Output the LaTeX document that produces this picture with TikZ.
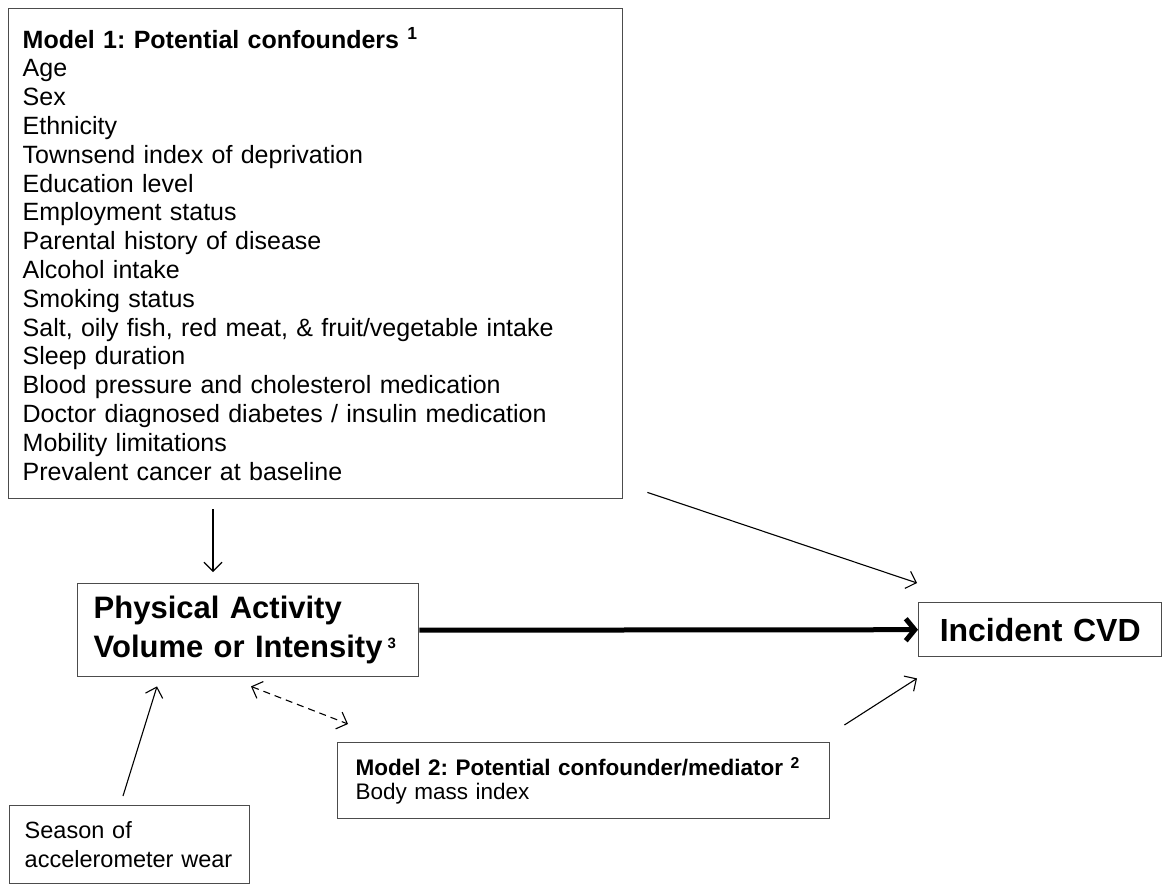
\documentclass[tikz,border=0pt]{standalone}
\usepackage{fontspec}
\setmainfont{Liberation Sans}
\usetikzlibrary{positioning,calc,arrows.meta}
\frenchspacing

\begin{document}
\begin{tikzpicture}[x=1pt, y=-1pt,
        box/.style={draw=black!70, line width=1.4pt, anchor=north west, align=left, inner ysep=0pt},
        arr/.style={-{Straight Barb[length=9pt,width=18pt]}, line width=1.1pt},
        bigarr/.style={-{Straight Barb[length=9pt,width=22pt]}, line width=5pt}]
        \useasboundingbox (0,0) rectangle (1163,886);
        
        % Boites
        \node[box, text width=586pt, minimum height=490pt, inner xsep=14pt,
              font=\fontsize{25}{28.8}\selectfont] (conf) at (8,8)
            {\textbf{Model 1: Potential confounders \textsuperscript{1}}\\
             Age\\ Sex\\ Ethnicity\\ Townsend index of deprivation\\ Education level\\
             Employment status\\ Parental history of disease\\ Alcohol intake\\ Smoking status\\
             Salt, oily fish, red meat, \& fruit/vegetable intake\\ Sleep duration\\
             Blood pressure and cholesterol medication\\
             Doctor diagnosed diabetes / insulin medication\\
             Mobility limitations\\ Prevalent cancer at baseline};
        \node[box, text width=309pt, minimum height=93pt, inner xsep=16pt,
              font=\bfseries\fontsize{31}{39}\selectfont] (pa) at (77,583)
            {Physical Activity\\ Volume or Intensity\,\textsuperscript{\fontsize{15}{15}\selectfont 3}};
        \node[box, text width=243pt, minimum height=54pt, inner xsep=0pt, align=center,
              font=\bfseries\fontsize{32}{36}\selectfont] (cvd) at (918,602) {Incident CVD};
        \node[box, text width=456pt, minimum height=76pt, inner xsep=18pt,
              font=\fontsize{22.5}{24}\selectfont] (bmi) at (337,742)
            {\textbf{Model 2: Potential confounder/mediator \textsuperscript{2}}\\ Body mass index};
        \node[box, text width=210pt, minimum height=78pt, inner xsep=15pt,
              font=\fontsize{23.5}{29}\selectfont] (season) at (9,805)
            {Season of\\ accelerometer wear};
        
        % Fleches
        \draw[arr] ($(conf.south west)+(205,10)$) -- ($(pa.north west)+(136,-11)$);
        \draw[arr] ($(conf.south east)+(24,-7)$) -- ($(cvd.north west)+(-1,-19)$);
        \draw[bigarr] (pa.east) -- (cvd.west);
        \draw[arr, {Straight Barb[length=9pt,width=18pt]}-{Straight Barb[length=9pt,width=18pt]},
              dash pattern=on 7pt off 5pt]
            ($(pa.south west)+(174,9)$) -- ($(bmi.north west)+(11,-18)$);
        \draw[arr] ($(bmi.north east)+(14,-17)$) -- ($(cvd.south west)+(-1,21)$);
        \draw[arr] ($(season.north west)+(114,-9)$) -- ($(pa.south west)+(80,9)$);
    \end{tikzpicture}
\end{document}
